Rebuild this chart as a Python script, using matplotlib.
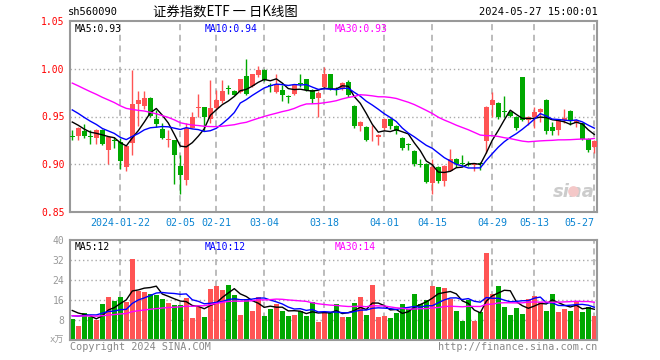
import numpy as np
import matplotlib
matplotlib.use("Agg")
import matplotlib.pyplot as plt

plt.rcParams["font.family"] = ["DejaVu Sans Mono", "Noto Sans CJK SC"]

# daily bars, 2024-01-10 .. 2024-05-27 (88 trading days)
opens = [0.930, 0.930, 0.935, 0.930, 0.928, 0.936, 0.915, 0.925, 0.923, 0.897,
         0.922, 0.963, 0.961, 0.969, 0.947, 0.937, 0.925, 0.925, 0.898, 0.883,
         0.938, 0.959, 0.960, 0.947, 0.959, 0.966, 0.980, 0.977, 0.976, 0.992,
         0.982, 0.993, 0.999, 0.983, 0.976, 0.978, 0.971, 0.974, 0.985, 0.989,
         0.978, 0.969, 0.981, 0.994, 0.979, 0.979, 0.986, 0.961, 0.940, 0.939,
         0.927, 0.929, 0.938, 0.947, 0.940, 0.928, 0.921, 0.914, 0.900, 0.900,
         0.880, 0.897, 0.882, 0.893, 0.905, 0.901, 0.900, 0.899, 0.901, 0.924,
         0.962, 0.964, 0.956, 0.955, 0.950, 0.991, 0.946, 0.950, 0.955, 0.967,
         0.939, 0.936, 0.946, 0.956, 0.943, 0.943, 0.926, 0.918]
highs = [0.936, 0.939, 0.942, 0.936, 0.937, 0.937, 0.930, 0.929, 0.927, 0.920,
         0.999, 0.977, 0.977, 0.970, 0.957, 0.943, 0.936, 0.925, 0.910, 0.943,
         0.955, 0.974, 0.960, 0.988, 0.978, 0.988, 0.983, 0.978, 0.989, 1.010,
         0.995, 1.003, 1.000, 0.985, 0.994, 0.983, 0.972, 0.984, 0.994, 0.989,
         0.979, 0.977, 1.002, 0.995, 0.981, 0.986, 0.988, 0.962, 0.945, 0.940,
         0.941, 0.932, 0.948, 0.948, 0.941, 0.929, 0.922, 0.915, 0.906, 0.901,
         0.906, 0.898, 0.899, 0.916, 0.907, 0.910, 0.903, 0.901, 0.902, 0.961,
         0.976, 0.965, 0.971, 0.956, 0.951, 0.991, 0.951, 0.960, 0.959, 0.968,
         0.944, 0.947, 0.958, 0.957, 0.947, 0.943, 0.927, 0.925]
lows = [0.925, 0.925, 0.927, 0.921, 0.921, 0.920, 0.900, 0.917, 0.895, 0.893,
        0.910, 0.940, 0.958, 0.949, 0.939, 0.926, 0.918, 0.879, 0.869, 0.878,
        0.938, 0.950, 0.935, 0.943, 0.957, 0.964, 0.974, 0.972, 0.975, 0.972,
        0.981, 0.991, 0.987, 0.976, 0.975, 0.966, 0.964, 0.973, 0.981, 0.977,
        0.964, 0.950, 0.979, 0.978, 0.973, 0.978, 0.970, 0.938, 0.935, 0.924,
        0.924, 0.920, 0.936, 0.937, 0.932, 0.915, 0.915, 0.898, 0.897, 0.880,
        0.869, 0.880, 0.877, 0.893, 0.897, 0.898, 0.898, 0.893, 0.894, 0.912,
        0.950, 0.947, 0.949, 0.949, 0.936, 0.945, 0.941, 0.938, 0.944, 0.932,
        0.931, 0.931, 0.943, 0.941, 0.939, 0.925, 0.913, 0.912]
closes = [0.929, 0.938, 0.930, 0.929, 0.936, 0.921, 0.929, 0.924, 0.903, 0.919,
          0.963, 0.967, 0.969, 0.951, 0.942, 0.928, 0.926, 0.910, 0.889, 0.938,
          0.950, 0.960, 0.949, 0.959, 0.967, 0.977, 0.979, 0.973, 0.989, 0.974,
          0.994, 0.999, 0.988, 0.982, 0.984, 0.972, 0.970, 0.983, 0.984, 0.978,
          0.968, 0.975, 0.994, 0.979, 0.978, 0.985, 0.972, 0.940, 0.944, 0.925,
          0.928, 0.931, 0.947, 0.940, 0.935, 0.917, 0.920, 0.900, 0.899, 0.881,
          0.897, 0.882, 0.898, 0.905, 0.900, 0.900, 0.899, 0.900, 0.900, 0.960,
          0.967, 0.950, 0.955, 0.951, 0.938, 0.946, 0.950, 0.955, 0.958, 0.935,
          0.935, 0.946, 0.948, 0.945, 0.946, 0.926, 0.915, 0.924]
volumes = [8.6, 5.7, 10.8, 9.2, 8.1, 14.5, 17.4, 15.5, 17.4, 15.4,
           32.3, 19.5, 19.1, 18.6, 18.2, 16.6, 14.9, 14.1, 14.1, 17.0,
           8.9, 13.2, 9.3, 20.6, 21.8, 20.2, 22.2, 17.9, 10.1, 16.6,
           11.8, 17.1, 9.7, 12.5, 14.5, 11.8, 9.7, 10.1, 11.5, 9.7,
           15.4, 7.3, 10.9, 10.8, 14.5, 9.3, 9.3, 14.9, 17.4, 10.1,
           22.2, 9.3, 9.7, 8.9, 10.9, 14.5, 12.5, 18.6, 14.5, 16.2,
           21.8, 21.4, 21.0, 16.6, 11.5, 7.8, 16.2, 7.8, 11.1, 34.7,
           18.6, 21.8, 13.3, 10.1, 12.9, 10.5, 16.6, 17.8, 15.4, 11.8,
           18.6, 11.3, 12.5, 11.8, 15.4, 11.3, 13.3, 9.7]

# the 29 sessions before the window (only feed the moving averages)
prior_closes = [1.025, 1.022, 1.018, 1.020, 1.015, 1.010, 1.008, 1.005, 1.000, 0.997,
                0.995, 0.990, 0.992, 0.988, 0.985, 0.983, 0.986, 0.980, 0.978, 0.983,
                0.975, 0.972, 0.968, 0.970, 0.963, 0.955, 0.950, 0.945, 0.942]
prior_volumes = [9.5, 10.2, 8.8, 11.0, 9.1, 10.4, 8.6, 9.9, 10.8, 9.3,
                 8.9, 10.1, 9.6, 11.2, 8.7, 9.4, 10.5, 9.0, 9.8, 10.0,
                 7.2, 8.1, 6.9, 8.4, 7.4, 10.8, 13.5, 12.2, 13.9]

# legend readings as printed on the chart
price_ma_text = {5: "0.93", 10: "0.94", 30: "0.93"}
volume_ma_text = {5: "12", 10: "12", 30: "14"}

tick_idx = [8, 18, 24, 32, 42, 52, 60, 70, 77, 87]
tick_labels = ["2024-01-22", "02-05", "02-21", "03-04", "03-18",
               "04-01", "04-15", "04-29", "05-13", "05-27"]

RED = "#ff5454"
GREEN = "#00a800"
GRID = "#aaaaaa"
BOX = "#999999"
MA_COLORS = {5: "black", 10: "#0000ff", 30: "#ff00ff"}
LEGEND_X = {5: 0.008, 10: 0.255, 30: 0.503}


def moving_avg(prior, values, n):
    full = np.concatenate([prior, values])
    return np.convolve(full, np.ones(n) / n, mode="valid")[-len(values):]


o = np.array(opens)
h = np.array(highs)
l = np.array(lows)
c = np.array(closes)
v = np.array(volumes)
x = np.arange(len(c))
cols = np.where(c >= o, RED, GREEN)

fig = plt.figure(figsize=(6.6, 3.6), dpi=100)
ax = fig.add_axes([70 / 660, 148 / 360, 527 / 660, 191 / 360])
axv = fig.add_axes([70 / 660, 20 / 360, 527 / 660, 100 / 360])

for a in (ax, axv):
    a.set_xlim(-0.38, 87.45)
    for s in a.spines.values():
        s.set_color(BOX)
        s.set_linewidth(1.5)
    for t in tick_idx:
        a.axvline(t, color=GRID, ls=(0, (4, 3)), lw=1.1, zorder=0)

# price panel
ax.set_ylim(0.85, 1.05)
for yv in (0.90, 0.95, 1.00):
    ax.axhline(yv, color=GRID, ls=(0, (1, 2)), lw=1, zorder=0)
ax.vlines(x, l, h, colors=cols, lw=1, zorder=2)
ax.bar(x, np.maximum(np.abs(c - o), 0.0009), bottom=np.minimum(o, c),
       width=0.8, color=cols, linewidth=0, zorder=3)

for n, col in MA_COLORS.items():
    ax.plot(x, moving_avg(prior_closes, c, n), color=col, lw=1, zorder=4)
    ax.text(LEGEND_X[n], 0.958, "MA%d:%s" % (n, price_ma_text[n]),
            transform=ax.transAxes, color=col, fontsize=7, va="center")

ax.set_yticks([0.85, 0.90, 0.95, 1.00, 1.05])
ax.set_yticklabels(["%.2f" % t for t in [0.85, 0.90, 0.95, 1.00, 1.05]])
ax.tick_params(axis="y", length=0, pad=4, labelcolor="red", labelsize=7)
ax.set_xticks(tick_idx)
ax.set_xticklabels(tick_labels)
ax.tick_params(axis="x", length=0, pad=4, labelcolor="#0a84d2", labelsize=7.2)
ax.get_xticklabels()[-1].set_ha("right")

# sina watermark
ax.text(0.995, 0.06, "sina", transform=ax.transAxes, ha="right", va="bottom",
        color="#cccccc", fontsize=13, fontweight="bold", style="italic",
        family="DejaVu Sans", zorder=1)
ax.scatter([83.5], [0.872], s=60, color="#f4c8c8", zorder=1, linewidths=0)

# volume panel
axv.set_ylim(0, 40)
for yv in (8, 16, 24, 32):
    axv.axhline(yv, color=GRID, ls=(0, (1, 2)), lw=1, zorder=0)
axv.bar(x, v, width=0.8, color=cols, linewidth=0, zorder=2)
for n, col in MA_COLORS.items():
    axv.plot(x, moving_avg(prior_volumes, v, n), color=col, lw=1, zorder=3)
    axv.text(LEGEND_X[n], 0.93, "MA%d:%s" % (n, volume_ma_text[n]),
             transform=axv.transAxes, color=col, fontsize=7, va="center")

axv.set_yticks([8, 16, 24, 32, 40])
axv.tick_params(axis="y", length=0, pad=4, labelcolor="#999999", labelsize=7)
axv.set_xticks(tick_idx)
axv.set_xticklabels([])
axv.tick_params(axis="x", length=0)
axv.text(-0.012, 0.0, "x万", transform=axv.transAxes, ha="right", va="center",
         color="#999999", fontsize=6.5)

# header and footer
fig.text(68 / 660, 1 - 12 / 360, "sh560090", fontsize=7.5, va="center")
fig.text(225 / 660, 1 - 12 / 360, "证券指数ETF 一 日K线图", fontsize=9.6,
         ha="center", va="center", family=["Noto Sans CJK SC"])
fig.text(598 / 660, 1 - 12 / 360, "2024-05-27 15:00:01", fontsize=7.5,
         ha="right", va="center")
fig.text(70 / 660, 1 - 347 / 360, "Copyright 2024 SINA.COM", fontsize=7.3,
         color="#888888", va="center")
fig.text(597 / 660, 1 - 347 / 360, "http://finance.sina.com.cn", fontsize=7.3,
         color="#888888", va="center", ha="right")

fig.savefig("out.png", dpi=100)
